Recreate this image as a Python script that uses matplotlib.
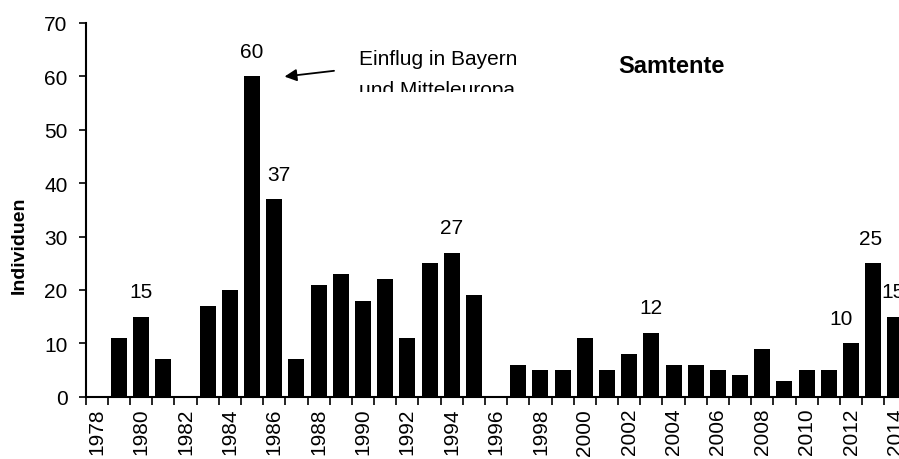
import matplotlib
matplotlib.use('Agg')
import matplotlib.pyplot as plt
from matplotlib.transforms import Bbox, TransformedBbox

plt.rcParams['font.family'] = ['Liberation Sans', 'DejaVu Sans']

years = list(range(1978, 2015))
counts = [0, 11, 15, 7, 0, 17, 20, 60, 37, 7, 21, 23, 18, 22, 11, 25, 27, 19, 0,
          6, 5, 5, 11, 5, 8, 12, 6, 6, 5, 4, 9, 3, 5, 5, 10, 25, 15]
labelled_years = [1980, 1985, 1986, 1994, 2003, 2012, 2013, 2014]
tick_labels = [str(y) if y % 2 == 0 else '' for y in years]

fig = plt.figure(figsize=(8.99, 4.6), dpi=100)
ax = fig.add_axes([0.0953, 0.1354, 0.913, 0.8125])

x = list(range(len(years)))
ax.bar(x, counts, width=0.72, color='black')

ax.set_xlim(-0.5, len(years) - 0.5)
ax.set_ylim(0, 70)
ax.set_yticks(range(0, 71, 10))
ax.tick_params(axis='y', labelsize=15, length=5, width=1.2, direction='out', pad=8)

# category axis: ticks between bars, labels under the bars
ax.set_xticks([i - 0.5 for i in x])
ax.set_xticklabels([])
ax.set_xticks(x, minor=True)
ax.set_xticklabels(tick_labels, minor=True, rotation=90, fontsize=15)
ax.tick_params(axis='x', which='major', length=6, width=1.2)
ax.tick_params(axis='x', which='minor', length=0, pad=8)

for s in ['top', 'right']:
    ax.spines[s].set_visible(False)
for s in ['left', 'bottom']:
    ax.spines[s].set_linewidth(1.5)

ax.set_ylabel('Individuen', fontsize=14, fontweight='bold')
ax.yaxis.set_label_coords(-0.0705, 0.409)

# horizontal nudges (points) for a few value labels
shifts = {1986: 3, 2012: -7, 2013: -2, 2014: -2}
for yr in labelled_years:
    i = years.index(yr)
    ax.annotate(str(counts[i]), (i, counts[i]), xytext=(shifts.get(yr, 0), 18),
                textcoords='offset points', ha='center', va='center', fontsize=15,
                annotation_clip=False)

ax.annotate('', xy=(8.34, 59.9), xytext=(10.82, 61.1),
            arrowprops=dict(arrowstyle='-|>', color='black', lw=1.3, mutation_scale=18))

ax.text(11.81, 62.27, 'Einflug in Bayern', fontsize=15, ha='left', va='baseline')
# second line is cut off at the bottom, as in the original text box
t2 = ax.text(11.81, 56.47, 'und Mitteleuropa', fontsize=15, ha='left', va='baseline')
t2.set_clip_on(True)
t2.set_clip_box(TransformedBbox(Bbox([[0, 367 / 460], [1, 1]]), fig.transFigure))

ax.text(25.91, 60.77, 'Samtente', fontsize=17, fontweight='bold', ha='center', va='baseline')

fig.savefig('out.png', dpi=100)
